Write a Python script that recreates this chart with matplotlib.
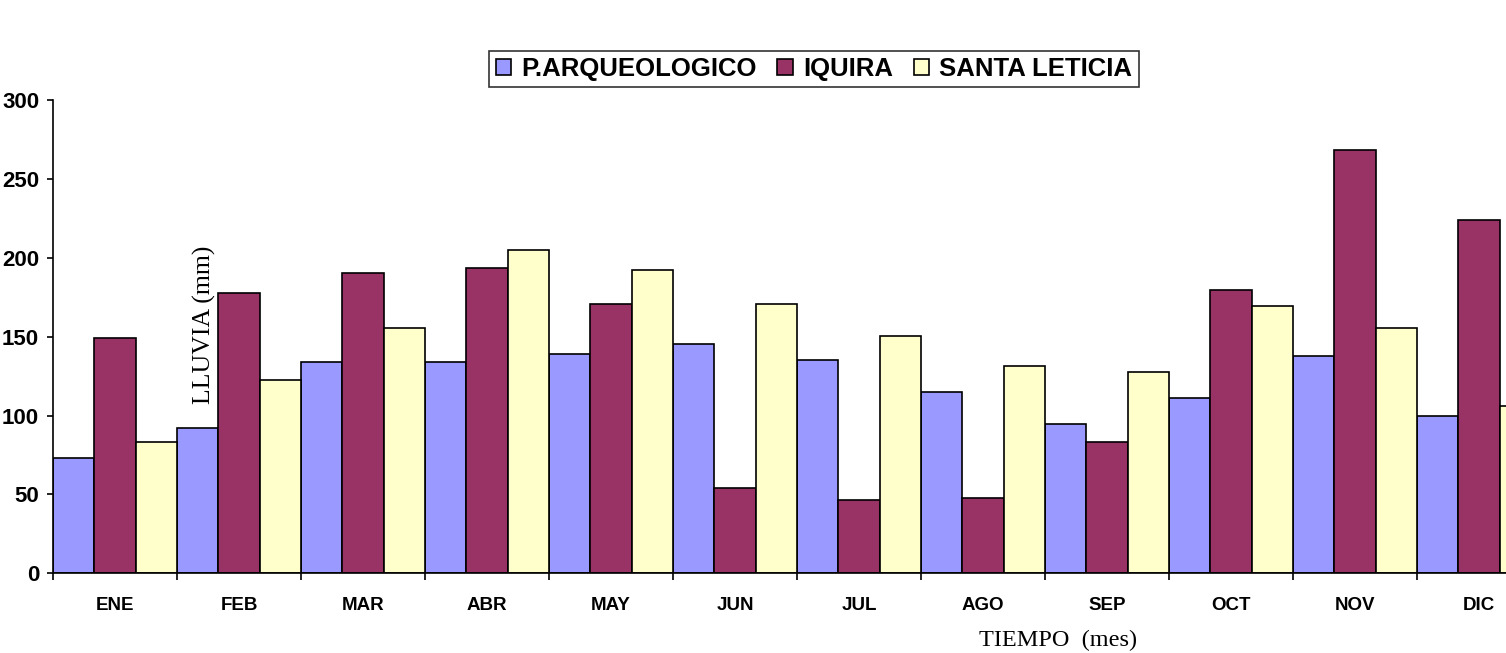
import numpy as np
import matplotlib.pyplot as plt
from matplotlib.ticker import FixedLocator, NullFormatter

meses = ["ENE", "FEB", "MAR", "ABR", "MAY", "JUN", "JUL", "AGO", "SEP", "OCT", "NOV", "DIC"]
arqueologico = [73.3, 92.3, 134.1, 134.1, 139.1, 145.7, 135.5, 115.0, 94.9, 111.4, 138.0, 100.0]
iquira = [149.5, 177.7, 190.2, 193.8, 171.1, 54.2, 46.6, 47.8, 83.4, 180.0, 268.7, 224.3]
santa_leticia = [83.4, 122.6, 155.9, 205.4, 192.7, 171.1, 150.6, 131.7, 127.9, 169.8, 155.8, 106.3]

series = ["P.ARQUEOLOGICO", "IQUIRA", "SANTA LETICIA"]
colores = ["#9999FF", "#993366", "#FFFFCC"]

fig = plt.figure(figsize=(15.06, 6.53), dpi=100)
# el eje se sale por la derecha como en la imagen original
ax = fig.add_axes([53 / 1506, 79.7 / 653, 1488 / 1506, 472.9 / 653])

x = np.arange(len(meses))
w = 1 / 3
for i, (vals, nombre, c) in enumerate(zip([arqueologico, iquira, santa_leticia], series, colores)):
    ax.bar(x + (i - 1) * w, vals, width=w, color=c, edgecolor="black", linewidth=1.2, label=nombre)

ax.set_xlim(-0.5, len(meses) - 0.5)
ax.set_ylim(0, 300)
ax.set_yticks(np.arange(0, 301, 50))

# ticks en los limites de cada mes, etiquetas al centro
ax.xaxis.set_major_locator(FixedLocator(np.arange(-0.5, len(meses), 1)))
ax.xaxis.set_major_formatter(NullFormatter())
ax.xaxis.set_minor_locator(FixedLocator(x))
ax.set_xticklabels(meses, minor=True)
ax.tick_params(axis="x", which="major", direction="out", length=5, width=1.2)
ax.tick_params(axis="x", which="minor", length=0, pad=17)
ax.tick_params(axis="y", direction="out", length=4, width=1.2, pad=6)

for lab in ax.get_xticklabels(minor=True):
    lab.set_fontfamily("Liberation Sans")
    lab.set_fontweight("bold")
    lab.set_fontsize(13.5)
for lab in ax.get_yticklabels():
    lab.set_fontfamily("Liberation Sans")
    lab.set_fontweight("bold")
    lab.set_fontsize(16)

for s in ["top", "right"]:
    ax.spines[s].set_visible(False)
for s in ["left", "bottom"]:
    ax.spines[s].set_linewidth(1.2)

fig.text(204 / 1506, 1 - 325 / 653, "LLUVIA (mm)", rotation=90, ha="center", va="center",
         family="Liberation Serif", fontsize=18.5)
fig.text(1058 / 1506, 1 - 640 / 653, "TIEMPO  (mes)", ha="center", va="center",
         family="Liberation Serif", fontsize=17.5)

leg = fig.legend(loc="center", bbox_to_anchor=(814 / 1506, 1 - 69 / 653), ncol=3,
                 frameon=True, fancybox=False, handlelength=0.6, handleheight=0.6,
                 handletextpad=0.4, columnspacing=0.8, borderpad=0.25, borderaxespad=0,
                 prop={"family": "Liberation Sans", "weight": "bold", "size": 18.5})
leg.get_frame().set_edgecolor("black")
leg.get_frame().set_linewidth(1.2)

fig.savefig("out.png", dpi=100)
